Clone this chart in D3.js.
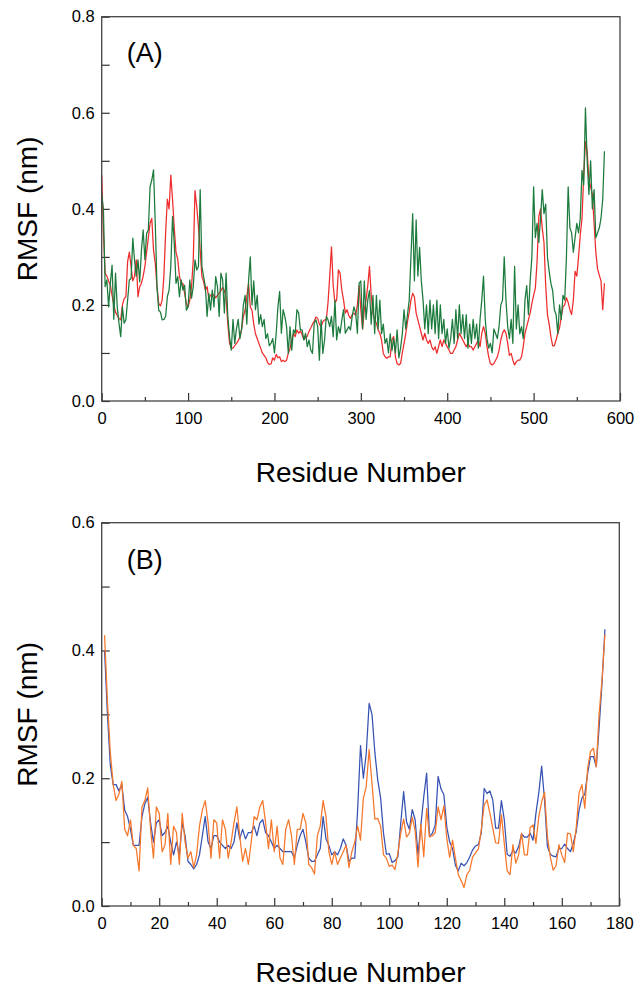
<!DOCTYPE html>
<html>
<head>
<meta charset="utf-8">
<script src="https://cdn.jsdelivr.net/npm/d3@7"></script>
<style>
  body { margin: 0; background: #fff; }
  svg { display: block; font-family: 'Liberation Sans', Arial, sans-serif; }
</style>
</head>
<body>
<svg id="chart" width="635" height="988"></svg>
<script>
// panel (A): one value every 2 residues, starting at residue 0
const residueStepA = 2;
const rmsfRedA = [
  0.47, 0.35, 0.266, 0.26, 0.25, 0.241, 0.22, 0.20, 0.185, 0.178,
  0.172, 0.169, 0.20, 0.213, 0.217, 0.29, 0.31, 0.28, 0.25, 0.26,
  0.294, 0.217, 0.238, 0.245, 0.26, 0.28, 0.31, 0.34, 0.37, 0.38,
  0.314, 0.287, 0.238, 0.203, 0.198, 0.21, 0.26, 0.35, 0.42, 0.40,
  0.47, 0.42, 0.36, 0.31, 0.295, 0.26, 0.245, 0.245, 0.224, 0.203,
  0.196, 0.21, 0.238, 0.294, 0.438, 0.405, 0.363, 0.314, 0.259, 0.248,
  0.231, 0.238, 0.213, 0.22, 0.222, 0.22, 0.215, 0.22, 0.225, 0.23,
  0.236, 0.23, 0.215, 0.16, 0.12, 0.11, 0.11, 0.115, 0.12, 0.125,
  0.134, 0.15, 0.176, 0.189, 0.217, 0.245, 0.196, 0.189, 0.16, 0.14,
  0.13, 0.12, 0.11, 0.10, 0.095, 0.09, 0.08, 0.076, 0.077, 0.09,
  0.085, 0.097, 0.09, 0.092, 0.082, 0.085, 0.082, 0.085, 0.099, 0.109,
  0.127, 0.141, 0.134, 0.148, 0.141, 0.146, 0.138, 0.128, 0.132, 0.135,
  0.145, 0.152, 0.16, 0.166, 0.175, 0.172, 0.16, 0.155, 0.165, 0.169,
  0.169, 0.205, 0.26, 0.321, 0.24, 0.205, 0.21, 0.273, 0.266, 0.23,
  0.21, 0.183, 0.19, 0.178, 0.172, 0.18, 0.183, 0.178, 0.20, 0.24,
  0.19, 0.15, 0.19, 0.21, 0.24, 0.28, 0.22, 0.183, 0.169, 0.162,
  0.148, 0.141, 0.127, 0.099, 0.092, 0.089, 0.092, 0.092, 0.127, 0.134,
  0.092, 0.078, 0.075, 0.078, 0.10, 0.12, 0.14, 0.165, 0.185, 0.21,
  0.224, 0.217, 0.183, 0.169, 0.155, 0.141, 0.127, 0.141, 0.127, 0.12,
  0.127, 0.113, 0.106, 0.113, 0.099, 0.113, 0.127, 0.113, 0.127, 0.12,
  0.113, 0.106, 0.099, 0.099, 0.106, 0.113, 0.127, 0.141, 0.134, 0.127,
  0.12, 0.113, 0.12, 0.113, 0.113, 0.106, 0.113, 0.12, 0.127, 0.113,
  0.141, 0.155, 0.141, 0.113, 0.092, 0.078, 0.075, 0.078, 0.085, 0.092,
  0.106, 0.127, 0.141, 0.148, 0.141, 0.12, 0.095, 0.099, 0.085, 0.075,
  0.082, 0.085, 0.085, 0.092, 0.113, 0.141, 0.155, 0.169, 0.183, 0.203,
  0.22, 0.235, 0.29, 0.384, 0.40, 0.36, 0.33, 0.24, 0.18, 0.16,
  0.134, 0.115, 0.115, 0.127, 0.141, 0.152, 0.175, 0.196, 0.20, 0.215,
  0.205, 0.19, 0.18, 0.21, 0.27, 0.26, 0.30, 0.345, 0.38, 0.47,
  0.54, 0.52, 0.46, 0.446, 0.43, 0.37, 0.31, 0.275, 0.262, 0.25,
  0.19, 0.245
];
const rmsfGreenA = [
  0.431, 0.398, 0.238, 0.252, 0.196, 0.245, 0.283, 0.17, 0.266, 0.196,
  0.162, 0.134, 0.196, 0.162, 0.169, 0.21, 0.252, 0.255, 0.339, 0.294,
  0.26, 0.294, 0.248, 0.314, 0.356, 0.294, 0.349, 0.356, 0.446, 0.46,
  0.481, 0.37, 0.238, 0.189, 0.185, 0.169, 0.17, 0.176, 0.217, 0.231,
  0.28, 0.384, 0.328, 0.245, 0.259, 0.217, 0.252, 0.231, 0.241, 0.189,
  0.196, 0.252, 0.214, 0.238, 0.294, 0.273, 0.28, 0.44, 0.28, 0.259,
  0.238, 0.176, 0.224, 0.189, 0.231, 0.196, 0.259, 0.238, 0.176, 0.266,
  0.252, 0.183, 0.266, 0.176, 0.134, 0.106, 0.17, 0.12, 0.15, 0.17,
  0.13, 0.15, 0.20, 0.22, 0.16, 0.25, 0.30, 0.20, 0.25, 0.19,
  0.22, 0.16, 0.18, 0.155, 0.17, 0.13, 0.14, 0.115, 0.12, 0.13,
  0.10, 0.141, 0.196, 0.228, 0.141, 0.19, 0.176, 0.155, 0.099, 0.155,
  0.106, 0.148, 0.141, 0.19, 0.183, 0.148, 0.148, 0.127, 0.141, 0.113,
  0.127, 0.106, 0.099, 0.162, 0.169, 0.155, 0.085, 0.169, 0.099, 0.127,
  0.176, 0.169, 0.155, 0.176, 0.134, 0.21, 0.127, 0.155, 0.141, 0.169,
  0.19, 0.141, 0.148, 0.155, 0.148, 0.176, 0.196, 0.183, 0.141, 0.245,
  0.25, 0.15, 0.25, 0.17, 0.21, 0.23, 0.16, 0.22, 0.14, 0.22,
  0.15, 0.21, 0.14, 0.16, 0.12, 0.13, 0.10, 0.14, 0.105, 0.13,
  0.10, 0.148, 0.09, 0.11, 0.14, 0.19, 0.15, 0.18, 0.21, 0.30,
  0.39, 0.25, 0.377, 0.26, 0.32, 0.25, 0.21, 0.15, 0.20, 0.14,
  0.21, 0.15, 0.20, 0.14, 0.21, 0.13, 0.20, 0.14, 0.17, 0.12,
  0.15, 0.11, 0.13, 0.17, 0.12, 0.19, 0.13, 0.20, 0.14, 0.18,
  0.13, 0.18, 0.11, 0.16, 0.12, 0.17, 0.13, 0.16, 0.11, 0.17,
  0.21, 0.26, 0.17, 0.13, 0.11, 0.12, 0.10, 0.15, 0.14, 0.13,
  0.155, 0.20, 0.21, 0.30, 0.21, 0.155, 0.13, 0.17, 0.12, 0.28,
  0.15, 0.20, 0.14, 0.155, 0.13, 0.21, 0.24, 0.18, 0.25, 0.30,
  0.446, 0.34, 0.37, 0.33, 0.38, 0.44, 0.39, 0.41, 0.30, 0.27,
  0.245, 0.23, 0.19, 0.18, 0.14, 0.20, 0.17, 0.22, 0.21, 0.30,
  0.446, 0.36, 0.35, 0.31, 0.34, 0.37, 0.35, 0.38, 0.48, 0.45,
  0.61, 0.50, 0.43, 0.50, 0.40, 0.44, 0.34, 0.35, 0.36, 0.38,
  0.42, 0.52
];

// panel (B): one value per residue, residues 1..175
const rmsfBlueB = [
  0.40, 0.30, 0.22, 0.19, 0.19, 0.18, 0.19, 0.15, 0.14, 0.12,
  0.095, 0.095, 0.095, 0.14, 0.16, 0.17, 0.13, 0.10, 0.13, 0.135,
  0.11, 0.115, 0.125, 0.10, 0.08, 0.10, 0.08, 0.13, 0.11, 0.07,
  0.065, 0.058, 0.065, 0.08, 0.11, 0.14, 0.10, 0.09, 0.11, 0.11,
  0.10, 0.095, 0.09, 0.095, 0.09, 0.10, 0.13, 0.105, 0.12, 0.105,
  0.115, 0.115, 0.125, 0.11, 0.13, 0.135, 0.115, 0.11, 0.10, 0.09,
  0.095, 0.09, 0.085, 0.085, 0.085, 0.085, 0.075, 0.095, 0.11, 0.12,
  0.10, 0.075, 0.07, 0.07, 0.08, 0.09, 0.14, 0.105, 0.095, 0.08,
  0.085, 0.08, 0.09, 0.105, 0.095, 0.07, 0.075, 0.075, 0.15, 0.251,
  0.20, 0.239, 0.317, 0.30, 0.24, 0.197, 0.169, 0.114, 0.081, 0.082,
  0.068, 0.071, 0.077, 0.13, 0.179, 0.132, 0.12, 0.151, 0.135, 0.08,
  0.127, 0.171, 0.208, 0.109, 0.114, 0.127, 0.203, 0.183, 0.174, 0.124,
  0.10, 0.09, 0.064, 0.055, 0.067, 0.063, 0.068, 0.077, 0.088, 0.094,
  0.096, 0.114, 0.184, 0.176, 0.18, 0.166, 0.122, 0.122, 0.165, 0.135,
  0.081, 0.078, 0.087, 0.083, 0.093, 0.113, 0.108, 0.108, 0.114, 0.103,
  0.145, 0.177, 0.219, 0.166, 0.093, 0.081, 0.078, 0.077, 0.09, 0.09,
  0.097, 0.09, 0.085, 0.098, 0.116, 0.15, 0.169, 0.175, 0.208, 0.234,
  0.234, 0.218, 0.281, 0.35, 0.433
];
const rmsfOrangeB = [
  0.424, 0.32, 0.24, 0.19, 0.165, 0.175, 0.195, 0.12, 0.11, 0.135,
  0.095, 0.09, 0.055, 0.155, 0.165, 0.185, 0.12, 0.075, 0.155, 0.145,
  0.085, 0.095, 0.145, 0.065, 0.125, 0.115, 0.065, 0.145, 0.10, 0.075,
  0.085, 0.06, 0.08, 0.125, 0.15, 0.165, 0.13, 0.075, 0.135, 0.13,
  0.075, 0.135, 0.12, 0.075, 0.10, 0.13, 0.155, 0.11, 0.07, 0.09,
  0.065, 0.10, 0.14, 0.135, 0.155, 0.165, 0.13, 0.09, 0.135, 0.085,
  0.125, 0.075, 0.065, 0.12, 0.135, 0.11, 0.065, 0.12, 0.12, 0.145,
  0.13, 0.065, 0.06, 0.05, 0.11, 0.125, 0.165, 0.14, 0.085, 0.065,
  0.085, 0.065, 0.075, 0.085, 0.095, 0.06, 0.085, 0.10, 0.125, 0.103,
  0.169, 0.187, 0.245, 0.192, 0.136, 0.137, 0.125, 0.08, 0.075, 0.062,
  0.064, 0.057, 0.083, 0.114, 0.136, 0.108, 0.114, 0.139, 0.118, 0.061,
  0.128, 0.077, 0.153, 0.108, 0.11, 0.115, 0.155, 0.135, 0.157, 0.106,
  0.076, 0.103, 0.075, 0.049, 0.04, 0.029, 0.049, 0.056, 0.077, 0.083,
  0.089, 0.119, 0.158, 0.166, 0.145, 0.122, 0.099, 0.098, 0.143, 0.098,
  0.055, 0.049, 0.096, 0.067, 0.08, 0.114, 0.08, 0.08, 0.123, 0.127,
  0.098, 0.14, 0.163, 0.178, 0.109, 0.077, 0.056, 0.063, 0.096, 0.08,
  0.068, 0.114, 0.113, 0.085, 0.122, 0.177, 0.19, 0.153, 0.216, 0.242,
  0.247, 0.218, 0.302, 0.354, 0.425
];

// axis ticks
const xMajorA = [0, 100, 200, 300, 400, 500, 600];
const xMinorA = [50, 150, 250, 350, 450, 550];
const yMajorA = [0, 0.2, 0.4, 0.6, 0.8];
const yMinorA = [0.1, 0.3, 0.5, 0.7];
const xMajorB = [0, 20, 40, 60, 80, 100, 120, 140, 160, 180];
const xMinorB = [10, 30, 50, 70, 90, 110, 130, 150, 170];
const yMajorB = [0, 0.2, 0.4, 0.6];
const yMinorB = [0.1, 0.3, 0.5];

const svg = d3.select('#chart');

function drawPanel(p) {
  const x = d3.scaleLinear().domain(p.xDomain).range([p.left, p.right]);
  const y = d3.scaleLinear().domain(p.yDomain).range([p.bottom, p.top]);
  const g = svg.append('g');

  // tick marks point inward, labels outside
  g.append('g')
    .attr('transform', `translate(0,${p.bottom})`)
    .call(d3.axisBottom(x).tickValues(p.xMajor).tickSize(-8).tickPadding(11).tickFormat(d3.format('d')))
    .call((a) => a.select('.domain').remove());
  g.append('g')
    .attr('transform', `translate(0,${p.bottom})`)
    .call(d3.axisBottom(x).tickValues(p.xMinor).tickSize(-4).tickFormat(''))
    .call((a) => a.select('.domain').remove());
  g.append('g')
    .attr('transform', `translate(${p.left},0)`)
    .call(d3.axisLeft(y).tickValues(p.yMajor).tickSize(-8).tickPadding(7).tickFormat(d3.format('.1f')))
    .call((a) => a.select('.domain').remove());
  g.append('g')
    .attr('transform', `translate(${p.left},0)`)
    .call(d3.axisLeft(y).tickValues(p.yMinor).tickSize(-8).tickFormat(''))
    .call((a) => a.select('.domain').remove());

  g.selectAll('.tick line').attr('stroke', '#333').attr('stroke-width', 1.2);
  g.selectAll('.tick text')
    .attr('fill', '#000')
    .style('font-size', '16.5px')
    .style('font-family', "'Liberation Sans', Arial, sans-serif");

  p.series.forEach((s) => {
    const line = d3.line()
      .x((d, i) => x(s.start + i * s.step))
      .y((d) => y(d));
    g.append('path')
      .datum(s.values)
      .attr('fill', 'none')
      .attr('stroke', s.color)
      .attr('stroke-width', 1.25)
      .attr('stroke-linejoin', 'round')
      .attr('d', line);
  });

  g.append('rect')
    .attr('x', p.left)
    .attr('y', p.top)
    .attr('width', p.right - p.left)
    .attr('height', p.bottom - p.top)
    .attr('fill', 'none')
    .attr('stroke', '#444')
    .attr('stroke-width', 1.3);

  g.append('text')
    .attr('x', p.left + 25)
    .attr('y', p.top + p.labelDy)
    .style('font-size', '27px')
    .attr('fill', '#000')
    .text(p.label);

  g.append('text')
    .attr('x', (p.left + p.right) / 2)
    .attr('y', p.bottom + p.titleDy)
    .attr('text-anchor', 'middle')
    .style('font-size', '28px')
    .attr('fill', '#000')
    .text('Residue Number');

  g.append('text')
    .attr('transform', `translate(37,${(p.top + p.bottom) / 2}) rotate(-90)`)
    .attr('text-anchor', 'middle')
    .style('font-size', '28px')
    .attr('fill', '#000')
    .text('RMSF (nm)');
}

drawPanel({
  left: 101.7, right: 620, top: 16.7, bottom: 401,
  xDomain: [0, 600], yDomain: [0, 0.8],
  xMajor: xMajorA, xMinor: xMinorA, yMajor: yMajorA, yMinor: yMinorA,
  label: '(A)', labelDy: 45, titleDy: 81,
  series: [
    { values: rmsfRedA, start: 0, step: residueStepA, color: '#ee2c2c' },
    { values: rmsfGreenA, start: 0, step: residueStepA, color: '#1b7a3c' },
  ],
});

drawPanel({
  left: 101.7, right: 619.3, top: 522.7, bottom: 906,
  xDomain: [0, 180], yDomain: [0, 0.6],
  xMajor: xMajorB, xMinor: xMinorB, yMajor: yMajorB, yMinor: yMinorB,
  label: '(B)', labelDy: 46, titleDy: 76,
  series: [
    { values: rmsfBlueB, start: 1, step: 1, color: '#3652b3' },
    { values: rmsfOrangeB, start: 1, step: 1, color: '#f7772a' },
  ],
});
</script>
</body>
</html>
